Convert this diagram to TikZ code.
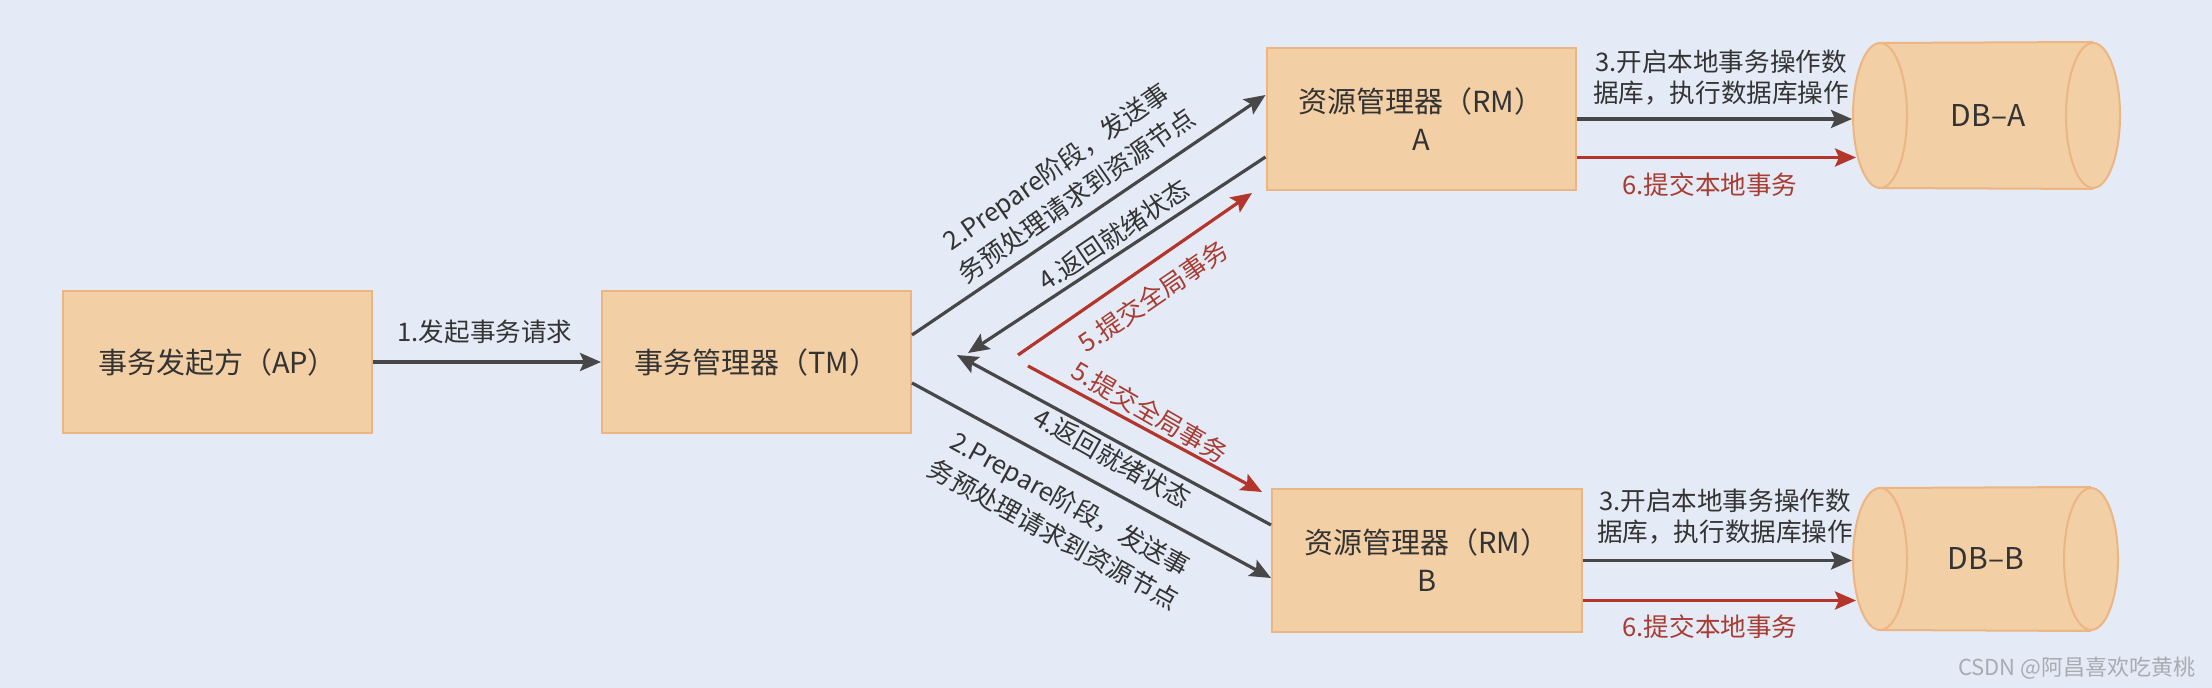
\documentclass[tikz,border=0pt]{standalone}
\usepackage{fontspec}
\setmainfont{Noto Sans CJK SC}
\usetikzlibrary{arrows.meta,shapes.geometric}
\definecolor{bgc}{HTML}{E4EBF6}
\definecolor{boxfill}{HTML}{F3CFA5}
\definecolor{boxline}{HTML}{EBB683}
\definecolor{grayline}{HTML}{474747}
\definecolor{redline}{HTML}{B3352B}
\definecolor{txt}{HTML}{333333}
\definecolor{redtxt}{HTML}{A83B32}
\definecolor{wm}{HTML}{A8ACB2}
\tikzset{
  box/.style={draw=boxline, line width=1pt, fill=boxfill, rectangle, inner sep=0pt,
    minimum width=154.5pt, minimum height=71pt, text=txt, align=center,
    font=\fontsize{14.5pt}{19pt}\selectfont},
  capell/.style={draw=boxline, line width=1pt, fill=boxfill, ellipse, inner sep=0pt,
    minimum width=27pt, minimum height=72.5pt},
  garrow/.style={draw=grayline, line width=1.6pt, -{Stealth[length=10.5pt,width=9pt,inset=2pt]}},
  rarrow/.style={draw=redline, line width=1.6pt, -{Stealth[length=10.5pt,width=9pt,inset=2pt]}},
  glabel/.style={text=txt, align=center, inner sep=0pt, font=\fontsize{12.8pt}{17.5pt}\selectfont},
  rlabel/.style={text=redtxt, align=center, inner sep=0pt, font=\fontsize{12.8pt}{17.5pt}\selectfont},
  hlabel/.style={text=txt, align=center, inner sep=0pt, font=\fontsize{12.8pt}{15.5pt}\selectfont},
  dblabel/.style={text=txt, inner sep=0pt, font=\fontsize{15pt}{18pt}\selectfont},
}
\begin{document}
\begin{tikzpicture}[x=0.5pt,y=-0.5pt]
\useasboundingbox (0,0) rectangle (2212,688);
\fill[bgc] (0,0) rectangle (2212,688);

% boxes
\node[box] (ap) at (217.5,362) {事务发起方（AP）};
\node[box] (tm) at (756.5,362) {事务管理器（TM）};
\node[box] (rma) at (1421,119) {资源管理器（RM）\\A};
\node[box, minimum width=155pt, minimum height=71.5pt] (rmb) at (1427,560.5) {资源管理器（RM）\\B};

% cylinder A
\fill[boxfill] (1880,43) rectangle (2093,188);
\node[capell] (dbaR) at (2093,115.5) {};
\draw[boxline, line width=1pt] (1880,43) -- (dbaR.north) (1880,188) -- (dbaR.south);
\node[capell] (dbaL) at (1880,115.5) {};
\node[dblabel] (dba) at (1988,116) {DB–A};

% cylinder B
\fill[boxfill] (1880,488) rectangle (2091,630);
\node[capell, minimum height=71pt] (dbbR) at (2091,559) {};
\draw[boxline, line width=1pt] (1880,488) -- (dbbR.north) (1880,630) -- (dbbR.south);
\node[capell, minimum height=71pt] (dbbL) at (1880,559) {};
\node[dblabel] (dbb) at (1986,559) {DB–B};

% 1
\draw[garrow] (ap.east) -- (tm.west);
\node[hlabel] (l1) at (485,332) {1.发起事务请求};

% TM <-> RM-A
\coordinate (u2s) at ([yshift=13.5pt]tm.east);
\coordinate (u2e) at ([yshift=12pt]rma.west);
\draw[garrow] (u2s) -- (u2e);
\coordinate (u4s) at ([yshift=-19pt]rma.west);
\coordinate (u4e) at (968,353);
\draw[garrow] (u4s) -- (u4e);
\coordinate (u5s) at (1018,355);
\coordinate (u5e) at (1252,193);
\draw[rarrow] (u5s) -- (u5e);

\node[glabel, rotate=35] (lu2) at (1066,181) {2.Prepare阶段，发送事\\务预处理请求到资源节点};
\node[glabel, rotate=34] (lu4) at (1114,235) {4.返回就绪状态};
\node[rlabel, rotate=34.5] (lu5) at (1153,296) {5.提交全局事务};

% TM <-> RM-B
\coordinate (b4s) at ([yshift=17.75pt]rmb.west);
\coordinate (b4e) at (957,355);
\draw[garrow] (b4s) -- (b4e);
\coordinate (b5s) at (1028,366);
\coordinate (b5e) at (1262,492);
\draw[rarrow] (b5s) -- (b5e);
\coordinate (b2s) at ([yshift=-10.5pt]tm.east);
\coordinate (b2e) at ([yshift=-8.75pt]rmb.west);
\draw[garrow] (b2s) -- (b2e);

\node[rlabel, rotate=-30] (lb5) at (1150,412) {5.提交全局事务};
\node[glabel, rotate=-29.5] (lb4) at (1112,458) {4.返回就绪状态};
\node[glabel, rotate=-29] (lb2) at (1062,519) {2.Prepare阶段，发送事\\务预处理请求到资源节点};

% RM-A -> DB-A
\draw[garrow] (rma.east) -- (rma.east -| dbaL.west);
\coordinate (a6s) at ([yshift=-19.25pt]rma.east);
\draw[rarrow] (a6s) -- ([xshift=2pt]a6s -| dbaL.west);
\node[hlabel] (la3) at (1721,77.5) {3.开启本地事务操作数\\据库，执行数据库操作};
\node[rlabel] (la6) at (1710,185) {6.提交本地事务};

% RM-B -> DB-B
\draw[garrow] (rmb.east) -- (rmb.east -| dbbL.west);
\coordinate (b6s) at ([yshift=-20pt]rmb.east);
\draw[rarrow] (b6s) -- ([xshift=2pt]b6s -| dbbL.west);
\node[hlabel] (lb3) at (1725,517) {3.开启本地事务操作数\\据库，执行数据库操作};
\node[rlabel] (lb6) at (1710,627) {6.提交本地事务};

% watermark
\node[text=wm, inner sep=0pt, anchor=east, font=\fontsize{11pt}{13pt}\selectfont] (wmk) at (2196,668) {CSDN @阿昌喜欢吃黄桃};
\end{tikzpicture}
\end{document}
